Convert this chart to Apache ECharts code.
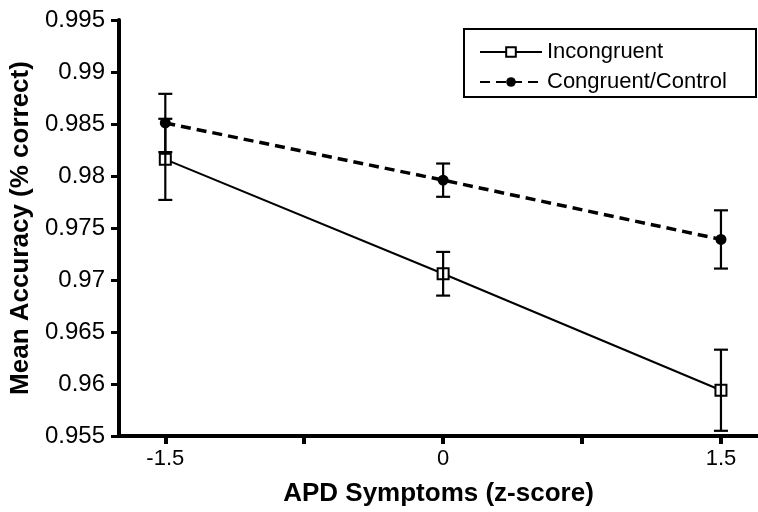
<!DOCTYPE html>
<html>
<head>
<meta charset="utf-8">
<script src="https://cdn.jsdelivr.net/npm/echarts@6/dist/echarts.min.js"></script>
<style>html,body{margin:0;padding:0;background:#fff}#c{width:758px;height:512px}</style>
</head>
<body>
<div id="c"></div>
<script>
const xValues = [-1.5, 0, 1.5];
const incongruent = [0.9816, 0.9706, 0.9594];
const incongruentErr = [0.0039, 0.0021, 0.0039];
const congruent = [0.9851, 0.9796, 0.9739];
const congruentErr = [0.0028, 0.0016, 0.0028];
const xTickValues = [-1.5, -0.75, 0, 0.75, 1.5];
const xLabelValues = [-1.5, 0, 1.5];

const FONT = "'Liberation Sans', Arial, Helvetica, sans-serif";

function errData(vals, errs) {
  return xValues.map((x, i) => [x, vals[i] - errs[i], vals[i] + errs[i]]);
}
function errRender(params, api) {
  const x = api.value(0);
  const lo = api.coord([x, api.value(1)]);
  const hi = api.coord([x, api.value(2)]);
  const hw = 7;
  const st = { stroke: '#000', lineWidth: 2.2 };
  return {
    type: 'group',
    children: [
      { type: 'line', shape: { x1: lo[0], y1: lo[1], x2: hi[0], y2: hi[1] }, style: st },
      { type: 'line', shape: { x1: lo[0] - hw, y1: lo[1], x2: lo[0] + hw, y2: lo[1] }, style: st },
      { type: 'line', shape: { x1: hi[0] - hw, y1: hi[1], x2: hi[0] + hw, y2: hi[1] }, style: st }
    ]
  };
}

const chart = echarts.init(document.getElementById('c'), null, { renderer: 'canvas' });
chart.setOption({
  animation: false,
  backgroundColor: '#fff',
  textStyle: { fontFamily: FONT, color: '#000' },
  grid: { left: 119, right: 0, top: 20, bottom: 69, containLabel: false },
  xAxis: {
    type: 'value',
    min: -1.75,
    max: 1.7,
    name: 'APD Symptoms (z-score)',
    nameLocation: 'middle',
    nameGap: 45,
    nameTextStyle: { fontFamily: FONT, fontWeight: 'bold', fontSize: 26, color: '#000' },
    axisLine: { show: true, onZero: false, lineStyle: { color: '#000', width: 4 } },
    axisTick: { show: true, length: 8, lineStyle: { color: '#000', width: 4 }, customValues: xTickValues },
    axisLabel: { color: '#000', fontFamily: FONT, fontSize: 22, margin: 12, customValues: xLabelValues },
    splitLine: { show: false }
  },
  yAxis: {
    type: 'value',
    min: 0.955,
    max: 0.995,
    interval: 0.005,
    name: 'Mean Accuracy (% correct)',
    nameLocation: 'middle',
    nameGap: 79,
    nameTextStyle: { fontFamily: FONT, fontWeight: 'bold', fontSize: 26, color: '#000' },
    axisLine: { show: true, onZero: false, lineStyle: { color: '#000', width: 4 } },
    axisTick: { show: true, length: 8, lineStyle: { color: '#000', width: 3 } },
    axisLabel: { color: '#000', fontFamily: FONT, fontSize: 24, margin: 14, formatter: v => String(+v.toFixed(3)) },
    splitLine: { show: false }
  },
  legend: {
    orient: 'vertical',
    left: 474,
    top: 36,
    itemWidth: 62,
    itemHeight: 12,
    itemGap: 8,
    data: ['Incongruent', 'Congruent/Control'],
    textStyle: { fontFamily: FONT, fontSize: 22, color: '#000' }
  },
  graphic: [{
    type: 'rect',
    shape: { x: 464, y: 29, width: 292, height: 68 },
    style: { fill: 'none', stroke: '#000', lineWidth: 2 },
    z: 100
  }],
  series: [
    {
      name: 'Incongruent',
      type: 'line',
      data: xValues.map((x, i) => [x, incongruent[i]]),
      symbol: 'emptyRect',
      symbolSize: 11,
      itemStyle: { color: '#000', borderWidth: 2 },
      lineStyle: { color: '#000', width: 2 },
      z: 3
    },
    {
      name: 'Congruent/Control',
      type: 'line',
      data: xValues.map((x, i) => [x, congruent[i]]),
      symbol: 'circle',
      symbolSize: 11,
      itemStyle: { color: '#000' },
      lineStyle: { color: '#000', width: 3.5, type: [10, 6] },
      z: 3
    },
    {
      name: 'errI',
      type: 'custom',
      data: errData(incongruent, incongruentErr),
      renderItem: errRender,
      encode: { x: 0, y: [1, 2] },
      z: 5
    },
    {
      name: 'errC',
      type: 'custom',
      data: errData(congruent, congruentErr),
      renderItem: errRender,
      encode: { x: 0, y: [1, 2] },
      z: 5
    }
  ]
});
</script>
</body>
</html>
